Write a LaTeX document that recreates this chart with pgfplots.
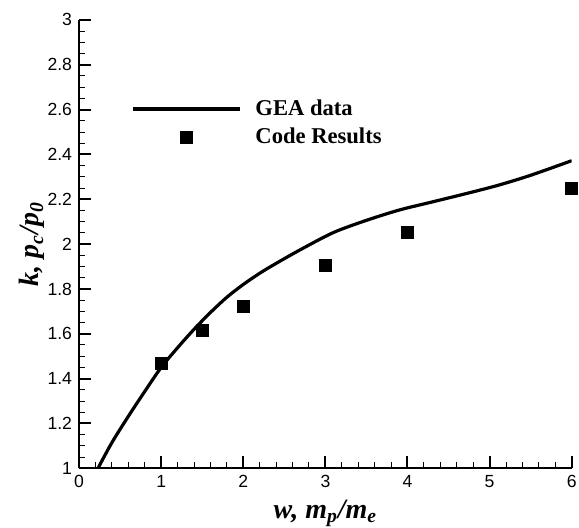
\documentclass[border=0pt]{standalone}
\usepackage{pgfplots}
\pgfplotsset{compat=1.18}
\usepackage{fontspec}
\setmainfont{Liberation Serif}
\newfontfamily\arial{Liberation Sans}

\pgfplotsset{
    longline legend/.style={legend image code/.code={\draw[##1] (0pt,0pt) -- (53.3pt,0pt);}},
    centermark legend/.style={legend image code/.code={\draw[##1] plot coordinates {(26.6pt,0pt)};}},
}

\begin{document}
\begin{tikzpicture}
\begin{axis}[
    at={(0,0)}, anchor=south west,
    scale only axis,
    width=246.3pt, height=224.2pt,
    xmin=0, xmax=6, ymin=1, ymax=3,
    axis lines=left,
    axis line style={-, line width=1pt},
    tick align=inside,
    xtick={0,1,...,6},
    ytick={1,1.2,...,3.01},
    minor x tick num=4,
    minor y tick num=3,
    major tick length=6pt,
    minor tick length=3pt,
    every major tick/.style={line width=1pt, black},
    every minor tick/.style={line width=0.5pt, black},
    ticklabel style={font=\arial\fontsize{8.8}{10}\selectfont},
    /pgf/number format/assume math mode=true,
    xlabel={\bfseries\itshape w, m\textsubscript{p}/m\textsubscript{e}},
    ylabel={\bfseries\itshape k, p\textsubscript{c}/p\textsubscript{0}},
    label style={font=\fontsize{14}{16}\selectfont},
    xlabel style={at={(axis description cs:0.5,0)}, anchor=base, yshift=-24.9pt, inner sep=0pt},
    ylabel style={at={(axis description cs:0,0.5)}, anchor=south, yshift=17pt, inner sep=0pt},
    legend style={at={(axis cs:0.64,2.54)}, anchor=west, draw=none, fill=none,
        inner sep=0pt, outer sep=0pt,
        font=\bfseries\fontsize{11.3}{13}\selectfont, row sep=4.8pt,
        nodes={inner sep=0pt}},
    legend cell align=left,
]
\addplot[black, line width=1.6pt, smooth, tension=0.5, longline legend] coordinates {
    (0.23,1.0) (0.4,1.115) (0.6,1.232) (0.8,1.343) (1.0,1.45) (1.2,1.538)
    (1.4,1.62) (1.6,1.695) (1.8,1.763) (2.0,1.82) (2.2,1.87) (2.4,1.914)
    (2.7,1.976) (3.1,2.052) (3.5,2.106) (3.9,2.152) (4.3,2.188) (4.7,2.224)
    (5.1,2.262) (5.5,2.307) (6.0,2.372)
};
\addlegendentry{\hspace{7pt}GEA data}
\addplot[black, only marks, mark=square*, mark size=3pt, centermark legend] coordinates {
    (1.0,1.469) (1.5,1.617) (2.0,1.72) (3.0,1.903) (4.0,2.053) (6.0,2.25)
};
\addlegendentry{\hspace{7pt}Code Results}
\end{axis}
\pgfresetboundingbox
\path (-39.55pt,-29.35pt) rectangle (249.95pt,234.15pt);
\end{tikzpicture}
\end{document}
